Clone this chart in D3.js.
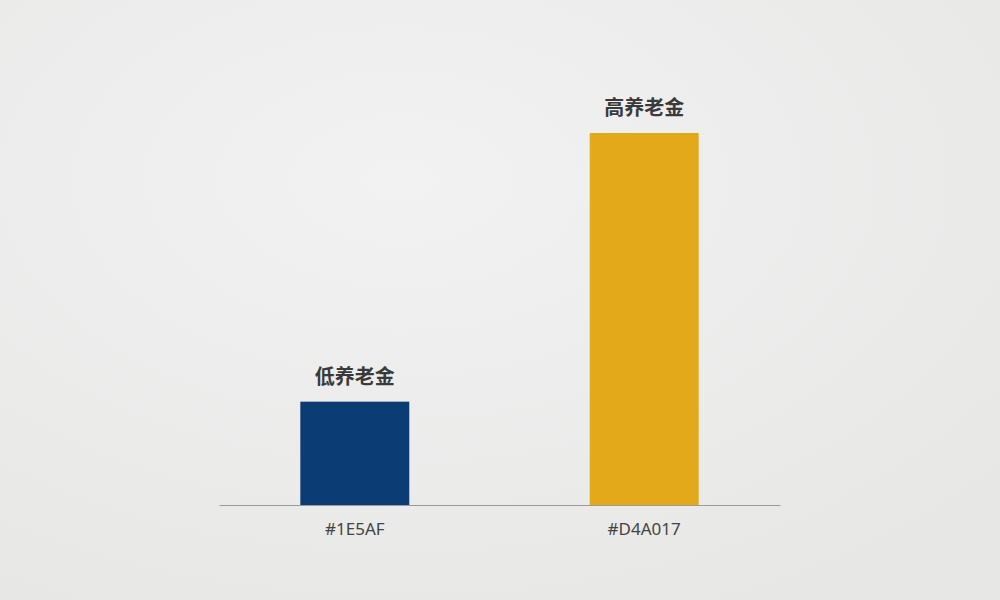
<!DOCTYPE html>
<html>
<head>
<meta charset="utf-8">
<script src="https://cdn.jsdelivr.net/npm/d3@7"></script>
<style>
  html, body { margin: 0; padding: 0; }
  body { width: 1000px; height: 600px; overflow: hidden; }
</style>
</head>
<body>
<div id="chart"></div>
<script>
// Data
const categories = ["#1E5AF", "#D4A017"];
const barLabels = ["低养老金", "高养老金"];
const values = [25, 90];
const barColors = ["#0b3d74", "#e2aa1b"];

const width = 1000, height = 600;
const baseY = 505;

const svg = d3.select("#chart").append("svg")
  .attr("width", width)
  .attr("height", height);

// background with soft vignette
const defs = svg.append("defs");
const grad = defs.append("radialGradient")
  .attr("id", "bg")
  .attr("cx", "40%").attr("cy", "30%").attr("r", "80%");
grad.append("stop").attr("offset", "0%").attr("stop-color", "#f1f2f1");
grad.append("stop").attr("offset", "100%").attr("stop-color", "#e7e7e6");

svg.append("rect")
  .attr("width", width).attr("height", height)
  .attr("fill", "url(#bg)");

const x = d3.scaleBand()
  .domain(categories)
  .range([219, 780])
  .paddingInner(0.6235)
  .paddingOuter(0.281);

const y = d3.scaleLinear()
  .domain([0, 90])
  .range([baseY, 133]);

// bars
svg.selectAll("rect.bar")
  .data(values)
  .enter()
  .append("rect")
  .attr("class", "bar")
  .attr("x", (d, i) => x(categories[i]))
  .attr("y", d => y(d))
  .attr("width", x.bandwidth())
  .attr("height", d => y(0) - y(d))
  .attr("fill", (d, i) => barColors[i]);

// labels above bars
svg.selectAll("text.lbl")
  .data(values)
  .enter()
  .append("text")
  .attr("class", "lbl")
  .attr("x", (d, i) => x(categories[i]) + x.bandwidth() / 2)
  .attr("y", d => y(d) - 18)
  .attr("text-anchor", "middle")
  .attr("font-family", "'Noto Sans CJK SC', sans-serif")
  .attr("font-weight", "bold")
  .attr("font-size", 20)
  .attr("fill", "#3a3a3a")
  .text((d, i) => barLabels[i]);

// x axis
const xAxis = svg.append("g")
  .attr("transform", `translate(0,${baseY})`)
  .call(d3.axisBottom(x).tickSize(0).tickPadding(18));

xAxis.select(".domain")
  .attr("stroke", "#9a9a9a")
  .attr("stroke-width", 1.2);

xAxis.selectAll("text")
  .attr("font-family", "'Noto Sans', sans-serif")
  .attr("font-size", 17)
  .attr("fill", "#444");
</script>
</body>
</html>
